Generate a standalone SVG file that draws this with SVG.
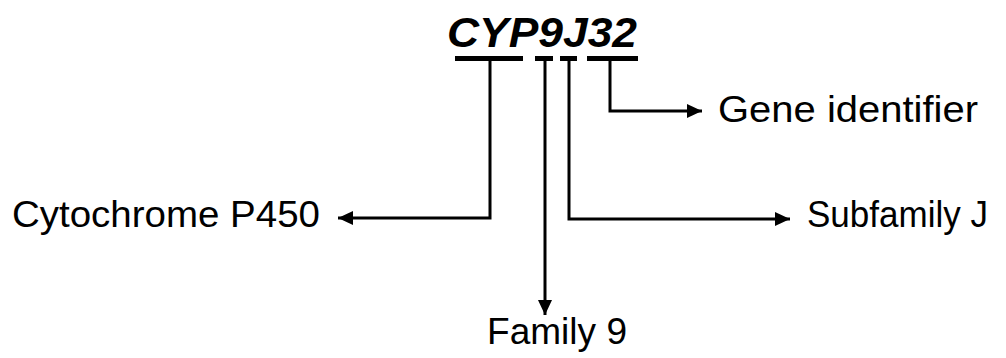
<svg xmlns="http://www.w3.org/2000/svg" width="1006" height="358" viewBox="0 0 1006 358">
<style>
.lbl{font-family:"Liberation Sans",Arial,sans-serif;font-size:37px;fill:#000}
.ttl{font-family:"Liberation Sans",Arial,sans-serif;font-size:42px;font-weight:bold;font-style:italic;fill:#000}
.bar{fill:#000}
.con{fill:none;stroke:#000;stroke-width:3}
</style>
<defs>
<marker id="ah" markerUnits="userSpaceOnUse" markerWidth="16" markerHeight="14" refX="15" refY="7" orient="auto">
<path d="M0,0 L15,7 L0,14 Z" fill="#000"/>
</marker>
</defs>
<g id="title">
<text class="ttl" x="447" y="47" textLength="190" lengthAdjust="spacingAndGlyphs">CYP9J32</text>
<rect class="bar" x="455" y="56" width="68" height="5"/>
<rect class="bar" x="535" y="56" width="18" height="5"/>
<rect class="bar" x="560" y="56" width="17" height="5"/>
<rect class="bar" x="587" y="56" width="51" height="5"/>
</g>
<g id="connectors">
<path class="con" d="M490,59 V218 H338" marker-end="url(#ah)"/>
<path class="con" d="M545,59 V315" marker-end="url(#ah)"/>
<path class="con" d="M569,59 V219 H790" marker-end="url(#ah)"/>
<path class="con" d="M610,59 V111 H702" marker-end="url(#ah)"/>
</g>
<g id="cytochrome">
<text class="lbl" x="12" y="227" textLength="308" lengthAdjust="spacingAndGlyphs">Cytochrome P450</text>
</g>
<g id="family">
<text class="lbl" x="487" y="344" textLength="140" lengthAdjust="spacingAndGlyphs">Family 9</text>
</g>
<g id="subfamily">
<text class="lbl" x="807" y="227" textLength="181" lengthAdjust="spacingAndGlyphs">Subfamily J</text>
</g>
<g id="gene">
<text class="lbl" x="718" y="122" textLength="260" lengthAdjust="spacingAndGlyphs">Gene identifier</text>
</g>
</svg>
